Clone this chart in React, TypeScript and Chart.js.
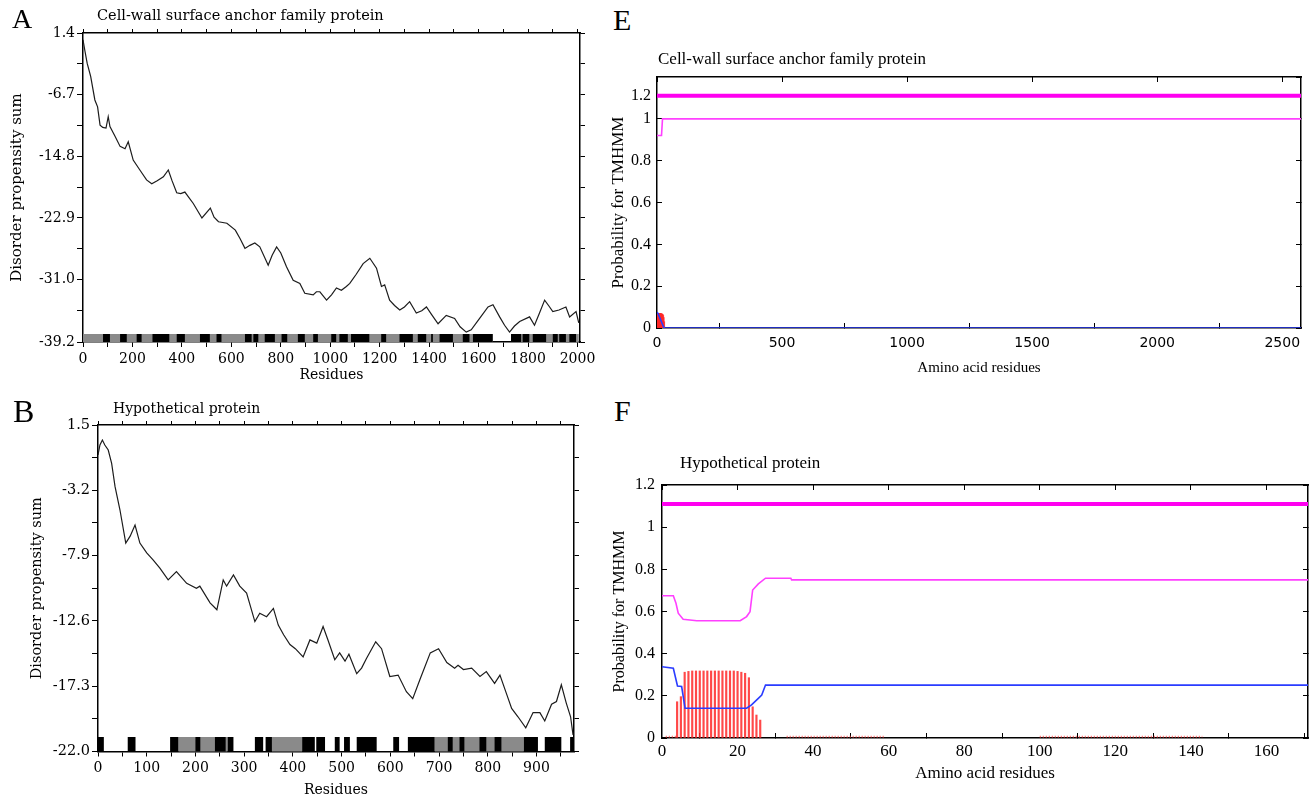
import React, { useEffect, useRef } from "react";
import { Chart, registerables } from "chart.js";

Chart.register(...registerables);

// ================= Panel A : disorder, Cell-wall surface anchor family protein =================
const aResidues = [0, 8, 17, 31, 48, 59, 69, 80, 93, 102, 109, 130, 150, 170, 183, 203, 230, 257, 278, 300, 325, 345, 360, 379, 395, 412, 446, 481, 515, 530, 548, 582, 616, 635, 655, 675, 695, 715, 749, 765, 783, 800, 823, 850, 877, 897, 931, 944, 958, 985, 1005, 1025, 1045, 1065, 1079, 1105, 1133, 1160, 1187, 1207, 1220, 1240, 1260, 1281, 1300, 1321, 1348, 1370, 1389, 1410, 1436, 1469, 1503, 1525, 1550, 1570, 1604, 1638, 1658, 1685, 1705, 1725, 1745, 1766, 1806, 1826, 1845, 1867, 1885, 1900, 1925, 1953, 1968, 1994, 2005];
const aDisorder = [0.5, -1.0, -2.6, -4.3, -7.4, -8.3, -10.7, -11.0, -11.1, -9.6, -10.9, -12.2, -13.5, -13.8, -12.9, -15.3, -16.6, -17.9, -18.4, -18.0, -17.5, -16.6, -18.0, -19.6, -19.7, -19.5, -21.0, -22.9, -21.6, -22.8, -23.4, -23.6, -24.5, -25.6, -26.9, -26.5, -26.2, -26.7, -29.1, -27.8, -26.7, -27.5, -29.3, -31.1, -31.5, -32.8, -33.0, -32.6, -32.6, -33.7, -33.0, -32.1, -32.4, -31.9, -31.5, -30.3, -28.9, -28.2, -29.5, -31.9, -31.7, -33.7, -34.4, -35.0, -34.6, -33.9, -35.4, -35.1, -34.6, -35.6, -36.8, -35.7, -36.1, -37.2, -37.9, -37.6, -36.1, -34.6, -34.3, -35.9, -37.0, -37.9, -37.1, -36.5, -35.9, -37.0, -35.5, -33.7, -34.5, -35.2, -35.0, -34.6, -35.9, -35.2, -36.7];
const aBlackBands = [[81, 109], [150, 177], [217, 237], [281, 349], [379, 412], [473, 513], [540, 560], [655, 682], [689, 709], [735, 776], [803, 826], [869, 897], [931, 950], [1004, 1024], [1037, 1071], [1084, 1158], [1206, 1226], [1280, 1334], [1354, 1388], [1408, 1415], [1442, 1496], [1536, 1563], [1577, 1657], [1731, 1772], [1778, 1805], [1819, 1873], [1900, 1920], [1926, 1953], [1967, 1994]];
const aGrayBands = [[0, 1657], [1731, 2005]];
const aXTicks = [0, 100, 200, 300, 400, 500, 600, 700, 800, 900, 1000, 1100, 1200, 1300, 1400, 1500, 1600, 1700, 1800, 1900, 2000];
const aXTickLabels = ["0", "", "200", "", "400", "", "600", "", "800", "", "1000", "", "1200", "", "1400", "", "1600", "", "1800", "", "2000"];
const aYTicks = [1.4, -2.65, -6.7, -10.75, -14.8, -18.85, -22.9, -26.95, -31.0, -35.1, -39.2];
const aYTickLabels = ["1.4", "", "-6.7", "", "-14.8", "", "-22.9", "", "-31.0", "", "-39.2"];

// ================= Panel B : disorder, Hypothetical protein =================
const bResidues = [0, 4, 9, 14, 21, 28, 35, 45, 57, 66, 76, 86, 100, 113, 127, 144, 161, 182, 202, 209, 230, 244, 257, 264, 278, 291, 305, 322, 332, 346, 360, 370, 381, 394, 405, 421, 435, 449, 462, 472, 486, 496, 507, 515, 531, 541, 551, 570, 582, 599, 616, 633, 646, 661, 682, 699, 716, 732, 739, 750, 767, 784, 797, 814, 825, 838, 849, 862, 878, 893, 907, 917, 931, 941, 951, 961, 970, 975];
const bDisorder = [-0.66, 0.06, 0.42, 0.06, -0.3, -1.26, -2.94, -4.6, -7.0, -6.5, -5.7, -7.0, -7.7, -8.2, -8.8, -9.65, -9.05, -9.9, -10.25, -10.1, -11.3, -11.8, -9.65, -10.1, -9.3, -10.1, -10.6, -12.65, -12.05, -12.3, -11.7, -12.9, -13.6, -14.3, -14.6, -15.2, -13.97, -14.2, -13.0, -13.97, -15.4, -14.9, -15.5, -15.0, -16.4, -16.0, -15.3, -14.1, -14.6, -16.6, -16.5, -17.7, -18.2, -16.8, -14.9, -14.6, -15.6, -16.0, -15.8, -16.1, -16.0, -16.6, -16.25, -17.1, -16.5, -17.8, -18.9, -19.5, -20.3, -19.2, -19.2, -19.8, -18.6, -18.4, -17.2, -18.5, -19.5, -20.8];
const bBlackBands = [[0, 12], [61, 77], [148, 165], [200, 210], [240, 262], [266, 278], [322, 339], [344, 357], [419, 445], [448, 466], [486, 496], [505, 517], [531, 572], [606, 618], [636, 691], [718, 728], [742, 752], [783, 797], [814, 828], [874, 903], [917, 951], [969, 976]];
const bGrayBands = [[165, 266], [357, 419], [691, 874]];
const bXTicks = [0, 50, 100, 150, 200, 250, 300, 350, 400, 450, 500, 550, 600, 650, 700, 750, 800, 850, 900, 950];
const bXTickLabels = ["0", "", "100", "", "200", "", "300", "", "400", "", "500", "", "600", "", "700", "", "800", "", "900", ""];
const bYTicks = [1.5, -0.85, -3.2, -5.55, -7.9, -10.25, -12.6, -14.95, -17.3, -19.65, -22.0];
const bYTickLabels = ["1.5", "", "-3.2", "", "-7.9", "", "-12.6", "", "-17.3", "", "-22.0"];

// ================= Panel E : TMHMM, Cell-wall surface anchor family protein =================
const eTopologyResidues = [0, 2575];
const eTopologyLevel = [1.11, 1.11];
const eOutsideResidues = [0, 18, 22, 2575];
const eOutsideProb = [0.92, 0.92, 1.0, 1.0];
const eInsideResidues = [0, 4, 28, 2575];
const eInsideProb = [0.075, 0.07, 0, 0];
const eTMResidues = [1, 3, 5, 7, 9, 11, 13, 15, 17, 19, 21, 23, 25, 27, 29];
const eTMProb = [0.05, 0.065, 0.07, 0.07, 0.07, 0.07, 0.07, 0.07, 0.068, 0.068, 0.066, 0.065, 0.06, 0.05, 0.03];
const eXTicks = [0, 500, 1000, 1500, 2000, 2500];
const eXTickLabels = ["0", "500", "1000", "1500", "2000", "2500"];
const eYTicks = [0, 0.2, 0.4, 0.6, 0.8, 1, 1.11];
const eYTickLabels = ["0", "0.2", "0.4", "0.6", "0.8", "1", "1.2"];
const eRightTicks = [0, 0.2, 0.4, 0.6, 0.8, 1, 1.2];

// ================= Panel F : TMHMM, Hypothetical protein =================
const fTopologyResidues = [0, 171];
const fTopologyLevel = [1.11, 1.11];
const fOutsideResidues = [0, 3, 3.7, 4.3, 5.6, 9.2, 20.7, 22.4, 23.3, 24, 25.5, 27.4, 34.1, 34.3, 171];
const fOutsideProb = [0.675, 0.675, 0.639, 0.592, 0.563, 0.556, 0.556, 0.576, 0.599, 0.702, 0.731, 0.758, 0.758, 0.75, 0.75];
const fInsideResidues = [0, 3, 4.1, 5.2, 6.1, 22.4, 23.7, 25.5, 26.4, 27.4, 171];
const fInsideProb = [0.338, 0.331, 0.247, 0.244, 0.141, 0.141, 0.157, 0.188, 0.204, 0.251, 0.251];
const fTMResidues = [4, 5, 6, 7, 8, 9, 10, 11, 12, 13, 14, 15, 16, 17, 18, 19, 20, 21, 22, 23, 24, 25, 26];
const fTMProb = [0.172, 0.196, 0.312, 0.316, 0.318, 0.318, 0.318, 0.318, 0.318, 0.318, 0.318, 0.318, 0.318, 0.318, 0.318, 0.318, 0.316, 0.312, 0.307, 0.286, 0.148, 0.109, 0.085];
const fTMTraceSegments = [[1, 4], [33, 59], [100, 143]];
const fXTicks = [0, 20, 40, 60, 80, 100, 120, 140, 160];
const fXTickLabels = ["0", "20", "40", "60", "80", "100", "120", "140", "160"];
const fYTicks = [0, 0.2, 0.4, 0.6, 0.8, 1, 1.2];
const fYTickLabels = ["0", "0.2", "0.4", "0.6", "0.8", "1", "1.2"];

// ================= helpers =================
const SERIF_D = "DejaVu Serif";
const SERIF_L = "Liberation Serif";
const SANS_D = "DejaVu Sans";

const pts = (xs: number[], ys: number[]) => xs.map((x, i) => ({ x, y: ys[i] }));
const segData = (segs: number[][], y: number) =>
  segs.flatMap(([s, e]) => [{ x: s, y }, { x: e, y }, { x: e, y: null as any }]);
const setTicks = (vals: number[]) => (scale: any) => {
  scale.ticks = vals.map((v) => ({ value: v }));
};
const fixW = (w: number) => (scale: any) => {
  scale.width = w;
};
const fixH = (h: number) => (scale: any) => {
  scale.height = h;
};
const labelsFrom = (labels: string[]) => (_v: any, i: number) => labels[i] ?? "";
const blank = () => "";

const baseOptions = {
  responsive: false,
  animation: false,
  devicePixelRatio: 1,
  events: [] as any[],
  layout: { padding: 0 },
  plugins: { legend: { display: false }, tooltip: { enabled: false }, title: { display: false } },
};

function axisCommon(tickLength: number) {
  return {
    grid: { drawOnChartArea: false, drawTicks: true, tickLength, color: "#000", lineWidth: 1 },
    border: { display: true, color: "#000", width: 1.5 },
  };
}

function disorderConfig(o: any): any {
  return {
    type: "line",
    data: {
      datasets: [
        { data: pts(o.residues, o.values), borderColor: "#1c1c1c", borderWidth: 1.2, pointRadius: 0, tension: 0, order: 0 },
        { data: segData(o.black, o.bandY), borderColor: "#000", borderWidth: o.bandW, borderCapStyle: "butt", pointRadius: 0, spanGaps: false, order: 1 },
        { data: segData(o.gray, o.bandY), borderColor: "#8a8a8a", borderWidth: o.bandW, borderCapStyle: "butt", pointRadius: 0, spanGaps: false, order: 2 },
      ],
    },
    options: {
      ...baseOptions,
      scales: {
        x: {
          type: "linear", position: "bottom", min: 0, max: o.xMax,
          afterBuildTicks: setTicks(o.xTicks), afterFit: fixH(o.bottomH),
          ticks: { autoSkip: false, maxRotation: 0, callback: labelsFrom(o.xLabels), color: "#000", font: { family: SERIF_D, size: 14 }, padding: o.xTickPad },
          title: { display: true, text: "Residues", color: "#000", font: { family: SERIF_D, size: 14 }, padding: { top: 0, bottom: o.xTitlePad } },
          ...axisCommon(5),
        },
        x2: {
          type: "linear", position: "top", min: 0, max: o.xMax,
          afterBuildTicks: setTicks(o.topTicks), afterFit: fixH(o.topH),
          ticks: { autoSkip: false, maxRotation: 0, callback: blank, font: { size: 8 } },
          ...axisCommon(4),
        },
        y: {
          type: "linear", position: "left", min: o.yMin, max: o.yMax,
          afterBuildTicks: setTicks(o.yTicks), afterFit: fixW(o.leftW),
          ticks: { autoSkip: false, callback: labelsFrom(o.yLabels), color: "#000", font: { family: SERIF_D, size: o.yTickSize }, padding: 2 },
          title: { display: true, text: "Disorder propensity sum", color: "#000", font: { family: SERIF_D, size: o.yTitleSize }, padding: { top: o.yTitlePad, bottom: 0 } },
          ...axisCommon(6),
        },
        y2: {
          type: "linear", position: "right", min: o.yMin, max: o.yMax,
          afterBuildTicks: setTicks(o.yTicks), afterFit: fixW(o.rightW),
          ticks: { autoSkip: false, callback: blank, font: { size: 8 } },
          ...axisCommon(5),
        },
      },
    },
  };
}

function tmhmmConfig(o: any): any {
  const datasets: any[] = [
    { data: pts(o.topoX, o.topoY), borderColor: "#ff00f0", borderWidth: 4, pointRadius: 0, tension: 0, order: 0 },
    { data: pts(o.outX, o.outY), borderColor: "#ff40ff", borderWidth: 1.6, pointRadius: 0, tension: 0, order: 1 },
    { data: pts(o.inX, o.inY), borderColor: "#2a3cff", borderWidth: 1.6, pointRadius: 0, tension: 0, order: 2 },
    { type: "bar", data: pts(o.tmX, o.tmY), backgroundColor: "rgba(255,40,40,0.85)", barThickness: o.barW, grouped: false, order: 3 },
  ];
  if (o.traceSegs) {
    datasets.push({ data: segData(o.traceSegs, 0.006), borderColor: "rgba(255,60,60,0.8)", borderWidth: 2, borderDash: [1, 2], pointRadius: 0, spanGaps: false, order: 4 });
  }
  return {
    type: "line",
    data: { datasets },
    options: {
      ...baseOptions,
      scales: {
        x: {
          type: "linear", position: "bottom", min: 0, max: o.xMax, offset: false,
          afterBuildTicks: setTicks(o.xTicks), afterFit: fixH(o.bottomH),
          ticks: { autoSkip: false, maxRotation: 0, callback: labelsFrom(o.xLabels), color: "#000", font: o.xTickFont, padding: o.xTickPad },
          title: { display: true, text: "Amino acid residues", color: "#000", font: o.xTitleFont, padding: { top: 0, bottom: o.xTitlePad } },
          ...axisCommon(-5),
        },
        x2: {
          type: "linear", position: "top", min: 0, max: o.xMax, offset: false,
          afterBuildTicks: setTicks(o.xTicks), afterFit: fixH(o.topH),
          ticks: { autoSkip: false, maxRotation: 0, callback: blank, font: { size: 8 } },
          ...axisCommon(-5),
        },
        y: {
          type: "linear", position: "left", min: 0, max: 1.2,
          afterBuildTicks: setTicks(o.yTicks), afterFit: fixW(o.leftW),
          ticks: { autoSkip: false, callback: labelsFrom(o.yLabels), color: "#000", font: { family: SERIF_L, size: 16 }, padding: o.yTickPad },
          title: { display: true, text: "Probability for TMHMM", color: "#000", font: o.yTitleFont, padding: { top: o.yTitlePad, bottom: 0 } },
          ...axisCommon(-5),
        },
        y2: {
          type: "linear", position: "right", min: 0, max: 1.2,
          afterBuildTicks: setTicks(o.rightTicks), afterFit: fixW(o.rightW),
          ticks: { autoSkip: false, callback: blank, font: { size: 8 } },
          ...axisCommon(-5),
        },
      },
    },
  };
}

function ChartCanvas(props: { left: number; top: number; width: number; height: number; build: () => any }) {
  const ref = useRef<HTMLCanvasElement>(null);
  useEffect(() => {
    if (!ref.current) return;
    const chart = new Chart(ref.current, props.build());
    return () => chart.destroy();
  }, []);
  return (
    <canvas
      ref={ref}
      width={props.width}
      height={props.height}
      style={{ position: "absolute", left: props.left, top: props.top, width: props.width, height: props.height }}
    />
  );
}

function Txt(props: { x: number; y: number; size: number; family: string; children: any }) {
  return (
    <div
      style={{
        position: "absolute", left: props.x, top: props.y, fontFamily: props.family, fontSize: props.size,
        lineHeight: 1, whiteSpace: "nowrap", color: "#000",
      }}
    >
      {props.children}
    </div>
  );
}

export default function App() {
  return (
    <div style={{ position: "absolute", left: 0, top: 0, width: 1312, height: 800, background: "#fff", overflow: "hidden" }}>
      <ChartCanvas
        left={0} top={0} width={600} height={390}
        build={() =>
          disorderConfig({
            residues: aResidues, values: aDisorder, black: aBlackBands, gray: aGrayBands, bandY: -38.74, bandW: 9,
            xMax: 2010, yMin: -39.2, yMax: 1.4, xTicks: aXTicks, xLabels: aXTickLabels, topTicks: aXTicks,
            yTicks: aYTicks, yLabels: aYTickLabels, leftW: 83, topH: 33, rightW: 20, bottomH: 48,
            xTickPad: 4, xTitlePad: 6.6, yTickSize: 14, yTitleSize: 15, yTitlePad: 7.7,
          })
        }
      />
      <ChartCanvas
        left={0} top={395} width={594} height={405}
        build={() =>
          disorderConfig({
            residues: bResidues, values: bDisorder, black: bBlackBands, gray: bGrayBands, bandY: -21.49, bandW: 15,
            xMax: 977, yMin: -22.0, yMax: 1.5, xTicks: bXTicks, xLabels: bXTickLabels, topTicks: bXTicks,
            yTicks: bYTicks, yLabels: bYTickLabels, leftW: 98, topH: 30, rightW: 20, bottomH: 48.5,
            xTickPad: 3.1, xTitlePad: 1.6, yTickSize: 14.5, yTitleSize: 14.5, yTitlePad: 29,
          })
        }
      />
      <ChartCanvas
        left={600} top={40} width={712} height={340}
        build={() =>
          tmhmmConfig({
            topoX: eTopologyResidues, topoY: eTopologyLevel, outX: eOutsideResidues, outY: eOutsideProb,
            inX: eInsideResidues, inY: eInsideProb, tmX: eTMResidues, tmY: eTMProb, barW: 1,
            xMax: 2575, xTicks: eXTicks, xLabels: eXTickLabels, yTicks: eYTicks, yLabels: eYTickLabels, rightTicks: eRightTicks,
            leftW: 57, topH: 37, rightW: 9, bottomH: 52,
            xTickFont: { family: SANS_D, size: 14 }, xTickPad: 11.6,
            xTitleFont: { family: SERIF_L, size: 15 }, xTitlePad: 3,
            yTickPad: 11, yTitleFont: { family: SERIF_L, size: 17 }, yTitlePad: 8.8,
          })
        }
      />
      <ChartCanvas
        left={600} top={440} width={712} height={360}
        build={() =>
          tmhmmConfig({
            topoX: fTopologyResidues, topoY: fTopologyLevel, outX: fOutsideResidues, outY: fOutsideProb,
            inX: fInsideResidues, inY: fInsideProb, tmX: fTMResidues, tmY: fTMProb, barW: 1.5, traceSegs: fTMTraceSegments,
            xMax: 171, xTicks: fXTicks, xLabels: fXTickLabels, yTicks: fYTicks, yLabels: fYTickLabels, rightTicks: fYTicks,
            leftW: 62, topH: 45, rightW: 4, bottomH: 62,
            xTickFont: { family: SERIF_L, size: 17 }, xTickPad: 8.5,
            xTitleFont: { family: SERIF_L, size: 17 }, xTitlePad: 15.8,
            yTickPad: 12, yTitleFont: { family: SERIF_L, size: 16 }, yTitlePad: 10.4,
          })
        }
      />

      <Txt x={12} y={5} size={28} family={SERIF_L}>A</Txt>
      <Txt x={13} y={395} size={32} family={SERIF_L}>B</Txt>
      <Txt x={613} y={5} size={30} family={SERIF_L}>E</Txt>
      <Txt x={614} y={396} size={30} family={SERIF_L}>F</Txt>

      <Txt x={97} y={7.7} size={14.5} family={SERIF_D}>Cell-wall surface anchor family protein</Txt>
      <Txt x={113} y={400.5} size={14} family={SERIF_D}>Hypothetical protein</Txt>
      <Txt x={658} y={49.8} size={17} family={SERIF_L}>Cell-wall surface anchor family protein</Txt>
      <Txt x={680} y={454} size={17} family={SERIF_L}>Hypothetical protein</Txt>
    </div>
  );
}
